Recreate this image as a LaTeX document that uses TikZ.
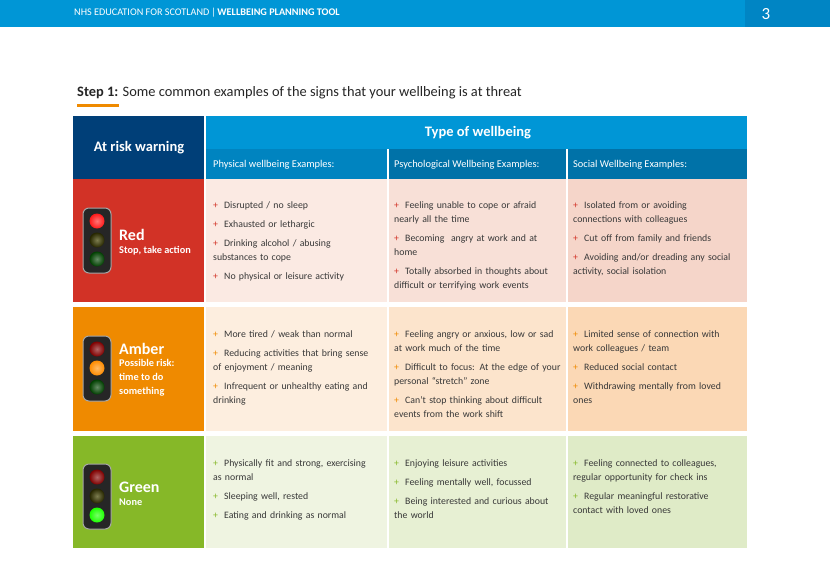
\documentclass[tikz,border=0pt]{standalone}
\usepackage{fontspec}
\setmainfont{Carlito}
\begin{document}
\begin{tikzpicture}[x=1pt,y=-1pt,
  txt/.style={anchor=north west,inner sep=0pt,text=black!78,font=\fontsize{9.8}{14}\selectfont,align=left,text width=172pt},
  hd/.style={text=white,font=\bfseries\fontsize{14.5}{16}\selectfont},
  sub/.style={anchor=west,text=white,font=\fontsize{10.4}{12}\selectfont,inner sep=0pt}]
\definecolor{topb}{HTML}{0096D6}\definecolor{topd}{HTML}{0085C4}
\definecolor{navy}{HTML}{003F78}\definecolor{subl}{HTML}{0084C0}\definecolor{subd}{HTML}{0072A8}
\definecolor{rr}{HTML}{D23226}\definecolor{r1}{HTML}{FBEAE3}\definecolor{r2}{HTML}{F8E0D7}\definecolor{r3}{HTML}{F5D5C9}
\definecolor{aa}{HTML}{EF8A00}\definecolor{a1}{HTML}{FDEEDF}\definecolor{a2}{HTML}{FCE4CC}\definecolor{a3}{HTML}{FBD8B5}
\definecolor{gg}{HTML}{86B828}\definecolor{g1}{HTML}{EFF4E1}\definecolor{g2}{HTML}{E7F0D3}\definecolor{g3}{HTML}{DFEBC7}
\newcommand\itm[2]{\par\hangindent=11pt\hangafter=1\noindent\makebox[11pt][l]{\textcolor{#1}{+}}#2\par\vspace{5pt}}
\useasboundingbox (0,0) rectangle (830,582);
\fill[white] (0,0) rectangle (830,582);
\fill[topb] (0,0) rectangle (830,27);
\fill[topd] (745,0) rectangle (830,27);
\node[anchor=west,text=white,font=\fontsize{10.2}{12}\selectfont,inner sep=0pt] (hdr) at (74,13) {NHS EDUCATION FOR SCOTLAND\,|\,\textbf{WELLBEING PLANNING TOOL}};
\node[text=white,font=\fontsize{17}{18}\selectfont] (pg) at (766,14) {3};
\node[anchor=west,inner sep=0pt,text=black!85,font=\fontsize{14.4}{16}\selectfont] (ttl) at (77,93) {\textbf{Step 1:} Some common examples of the signs that your wellbeing is at threat};
\fill[aa] (77,104) rectangle (119,106.5);
% header
\fill[navy] (73,116) rectangle (204,179);
\node[hd] (arw) at (139,148) {At risk warning};
\fill[topb] (206,116) rectangle (747,149);
\node[hd] (tow) at (478,133) {Type of wellbeing};
\fill[subl] (206,149) rectangle (387,179);
\fill[subd] (389,149) rectangle (566,179);
\fill[subd] (568,149) rectangle (747,179);
\node[sub] (s1) at (213,165) {Physical wellbeing Examples:};
\node[sub] (s2) at (394,165) {Psychological Wellbeing Examples:};
\node[sub] (s3) at (573,165) {Social Wellbeing Examples:};
% rows
\fill[rr] (73,179) rectangle (204,302);
\fill[r1] (206,179) rectangle (387,302);\fill[r2] (389,179) rectangle (566,302);\fill[r3] (568,179) rectangle (747,302);
\fill[aa] (73,307) rectangle (204,431);
\fill[a1] (206,307) rectangle (387,431);\fill[a2] (389,307) rectangle (566,431);\fill[a3] (568,307) rectangle (747,431);
\fill[gg] (73,436) rectangle (204,548);
\fill[g1] (206,436) rectangle (387,548);\fill[g2] (389,436) rectangle (566,548);\fill[g3] (568,436) rectangle (747,548);
% traffic lights
\foreach \t/\a/\b/\c in {208/red!90!white/black!70!olive/black!75!green, 336/black!50!red/orange!90!yellow/black!75!green, 464/black!50!red/black!70!olive/green!85!lime}{
  \fill[black!85,draw=gray!70,line width=1pt,rounded corners=6pt] (83,\t) rectangle (111,\t+65);
  \shade[inner color=\a!60!white,outer color=\a] (97,\t+13) circle (7.5);
  \shade[inner color=\b!60!white,outer color=\b] (97,\t+32) circle (7.5);
  \shade[inner color=\c!60!white,outer color=\c] (97,\t+51) circle (7.5);
}
\node[anchor=west,inner sep=0pt,text=white,font=\bfseries\fontsize{16}{18}\selectfont] (lr) at (119,235) {Red};
\node[anchor=west,inner sep=0pt,text=white,font=\bfseries\fontsize{10.3}{12}\selectfont] (lr2) at (119,251) {Stop, take action};
\node[anchor=west,inner sep=0pt,text=white,font=\bfseries\fontsize{16}{18}\selectfont] (la) at (119,349) {Amber};
\node[anchor=north west,inner sep=0pt,text=white,font=\bfseries\fontsize{10.3}{14}\selectfont,align=left] (la2) at (119,359) {Possible risk:\\time to do\\something};
\node[anchor=west,inner sep=0pt,text=white,font=\bfseries\fontsize{16}{18}\selectfont] (lg) at (119,487) {Green};
\node[anchor=west,inner sep=0pt,text=white,font=\bfseries\fontsize{10.3}{12}\selectfont] (lg2) at (119,502) {None};
% red texts
\node[txt] (c11) at (213,194) {\itm{rr}{Disrupted / no sleep}\itm{rr}{Exhausted or lethargic}\itm{rr}{Drinking alcohol / abusing\\substances to cope}\itm{rr}{No physical or leisure activity}};
\node[txt] (c12) at (394,194) {\itm{rr}{Feeling unable to cope or afraid\\nearly all the time}\itm{rr}{Becoming\ \ angry at work and at\\home}\itm{rr}{Totally absorbed in thoughts about\\difficult or terrifying work events}};
\node[txt] (c13) at (573,194) {\itm{rr}{Isolated from or avoiding\\connections with colleagues}\itm{rr}{Cut off from family and friends}\itm{rr}{Avoiding and/or dreading any social\\activity, social isolation}};
% amber texts
\node[txt] (c21) at (213,323) {\itm{aa}{More tired / weak than normal}\itm{aa}{Reducing activities that bring sense\\of enjoyment / meaning}\itm{aa}{Infrequent or unhealthy eating and\\drinking}};
\node[txt] (c22) at (394,323) {\itm{aa}{Feeling angry or anxious, low or sad\\at work much of the time}\itm{aa}{Difficult to focus: At the edge of your\\personal ``stretch'' zone}\itm{aa}{Can't stop thinking about difficult\\events from the work shift}};
\node[txt] (c23) at (573,323) {\itm{aa}{Limited sense of connection with\\work colleagues / team}\itm{aa}{Reduced social contact}\itm{aa}{Withdrawing mentally from loved\\ones}};
% green texts
\node[txt] (c31) at (213,452) {\itm{gg}{Physically fit and strong, exercising\\as normal}\itm{gg}{Sleeping well, rested}\itm{gg}{Eating and drinking as normal}};
\node[txt] (c32) at (394,452) {\itm{gg}{Enjoying leisure activities}\itm{gg}{Feeling mentally well, focussed}\itm{gg}{Being interested and curious about\\the world}};
\node[txt] (c33) at (573,452) {\itm{gg}{Feeling connected to colleagues,\\regular opportunity for check ins}\itm{gg}{Regular meaningful restorative\\contact with loved ones}};
\end{tikzpicture}
\end{document}
